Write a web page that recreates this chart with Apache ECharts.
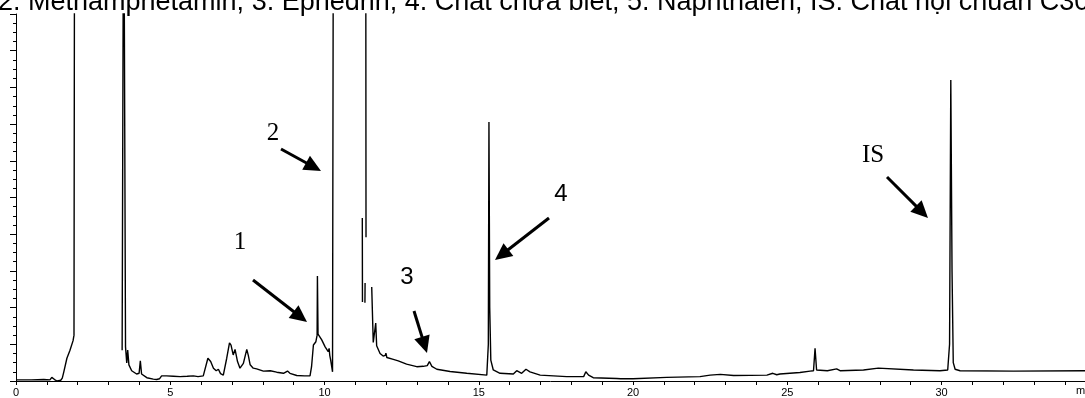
<!DOCTYPE html>
<html>
<head>
<meta charset="utf-8">
<script src="https://cdn.jsdelivr.net/npm/echarts@6/dist/echarts.min.js"></script>
<style>
  html, body { margin: 0; padding: 0; background: #fff; }
  #chart { width: 1085px; height: 398px; }
</style>
</head>
<body>
<div id="chart"></div>
<script>
// retention time (min) and detector response (% of full scale); null = trace off scale / not recorded
var retentionTimes = [
  0.00, 0.50, 0.90, 1.10, 1.16, 1.20, 1.25, 1.33, 1.45, 1.50, 1.55, 1.65, 1.75, 1.85, 1.88, 1.90,
  2.50,
  3.44, 3.49, 3.52, 3.55, 3.59, 3.62, 3.66, 3.75, 3.91, 3.99, 4.03, 4.07, 4.24, 4.45, 4.56, 4.65,
  4.72, 4.88, 5.10, 5.32, 5.55, 5.75, 5.90, 6.07, 6.13, 6.22, 6.31, 6.40, 6.49, 6.56, 6.63, 6.72,
  6.83, 6.92, 6.97, 7.04, 7.10, 7.13, 7.18, 7.26, 7.37, 7.48, 7.53, 7.59, 7.69, 7.80, 8.02, 8.24,
  8.45, 8.67, 8.80, 8.88, 9.10, 9.35, 9.53, 9.58, 9.64, 9.72, 9.76, 9.77, 9.79, 9.83, 9.91, 10.02,
  10.12, 10.15, 10.17, 10.20, 10.26, 10.29,
  10.80,
  11.225, 11.23,
  11.27,
  11.31, 11.315,
  11.325,
  11.335, 11.345,
  11.45,
  11.53, 11.58, 11.62, 11.66, 11.69, 11.75, 11.80, 11.90, 11.97, 11.99, 12.02, 12.23, 12.39, 12.66,
  12.99, 13.20, 13.33, 13.40, 13.48, 13.64, 14.07, 14.61, 15.26, 15.31, 15.33, 15.355, 15.39, 15.47,
  15.69, 16.12, 16.23, 16.39, 16.53, 16.66, 16.99, 17.85, 18.40, 18.47, 18.56, 18.71, 19.47, 19.52,
  19.60, 20.00, 21.09, 22.17, 22.50, 22.83, 23.26, 24.34, 24.53, 24.66, 24.76, 25.41, 25.74, 25.85,
  25.90, 25.95, 26.30, 26.60, 26.71, 27.47, 27.95, 28.00, 29.09, 29.95, 30.20, 30.26, 30.30, 30.34,
  30.38, 30.44, 30.60, 32.33, 34.65
];
var intensities = [
  0.3, 0.3, 0.4, 0.3, 1.0, 0.6, 0.4, 0.0, 0.2, 0.8, 2.5, 6.2, 8.4, 11.0, 12.5, 150,
  null,
  8.4, 150, 150, 9.3, 4.9, 8.4, 4.4, 2.8, 1.9, 2.1, 5.5, 1.9, 0.9, 0.5, 0.4, 0.6,
  1.4, 1.4, 1.3, 1.2, 1.3, 1.4, 1.2, 1.4, 1.8, 6.2, 5.3, 3.5, 2.8, 3.2, 2.0, 1.6,
  6.2, 10.4, 9.8, 7.1, 8.6, 8.9, 5.3, 3.5, 4.8, 8.6, 7.0, 4.4, 3.5, 3.3, 2.7, 2.8,
  2.4, 2.1, 2.7, 2.1, 1.5, 1.4, 1.4, 3.9, 9.8, 10.7, 12.5, 28.6, 12.8, 12.5, 11.2, 9.3,
  8.0, 8.9, 7.0, 5.7, 2.5, 150,
  null,
  44.4, 21.5,
  null,
  21.3, 26.7,
  null,
  150, 39.2,
  null,
  25.6, 10.5, 11.0, 15.8, 9.6, 9.3, 7.5, 6.8, 7.0, 7.6, 6.4, 5.9, 5.5, 4.6,
  3.9, 4.0, 4.2, 5.3, 4.0, 3.2, 2.6, 2.1, 1.6, 10, 70.6, 20, 5.7, 3.0,
  2.1, 1.9, 2.8, 2.1, 3.2, 2.5, 1.6, 1.2, 1.2, 2.5, 1.6, 0.9, 0.7, 0.9,
  0.6, 0.6, 1.0, 1.2, 1.6, 1.8, 1.5, 1.6, 2.1, 1.7, 1.9, 2.3, 2.7, 2.8,
  8.9, 3.0, 2.8, 3.3, 2.8, 3.0, 3.5, 3.0, 3.0, 2.8, 3.0, 10, 82, 30,
  5, 3.2, 2.8, 2.7, 2.8
];
var xTickLabels = ['0', '5', '10', '15', '20', '25', '30'];
var titleText = '2. Methamphetamin, 3. Ephedrin, 4. Chất chưa biết, 5. Naphthalen, IS: Chất nội chuẩn C30';

var traceData = retentionTimes.map(function (t, i) {
  return [t, intensities[i] === null ? '-' : intensities[i]];
});

// arrow: tail (x1,y1) -> tip (x2,y2)
function arrow(x1, y1, x2, y2) {
  var dx = x2 - x1, dy = y2 - y1;
  var len = Math.sqrt(dx * dx + dy * dy);
  var ux = dx / len, uy = dy / len;
  var hl = 17, hw = 8;
  var bx = x2 - ux * hl, by = y2 - uy * hl;
  return [
    { type: 'line', shape: { x1: x1, y1: y1, x2: bx + ux * 2, y2: by + uy * 2 },
      style: { stroke: '#000', lineWidth: 3 }, z: 10 },
    { type: 'polygon', shape: { points: [[x2, y2], [bx - uy * hw, by + ux * hw], [bx + uy * hw, by - ux * hw]] },
      style: { fill: '#000' }, z: 10 }
  ];
}

function label(text, x, y, serif) {
  return {
    type: 'text', x: x, y: y, z: 10,
    style: {
      text: text, fill: '#000', align: 'center', verticalAlign: 'middle',
      font: serif ? '25px "Liberation Serif"' : '24px "Liberation Sans"'
    }
  };
}

var graphics = [
  { type: 'text', x: -2, y: -11,
    style: { text: titleText, fill: '#000', font: '27px "Liberation Sans"', verticalAlign: 'top' } },
  { type: 'text', x: 1076, y: 385,
    style: { text: 'min', fill: '#000', font: '11px "Liberation Sans"', verticalAlign: 'top' } },
  label('1', 240, 242, true),
  label('2', 273, 133, true),
  label('3', 407, 277, false),
  label('4', 561, 194, false),
  label('IS', 873, 155, true)
]
  .concat(arrow(253, 280, 307, 322))
  .concat(arrow(281, 149, 321, 171))
  .concat(arrow(414, 311, 427, 353))
  .concat(arrow(549, 218, 495, 260))
  .concat(arrow(887, 177, 928, 218));

var myChart = echarts.init(document.getElementById('chart'));
myChart.setOption({
  animation: false,
  grid: { left: 16, right: 0, top: 14, bottom: 17 },
  xAxis: {
    type: 'value',
    min: 0,
    max: 34.65,
    interval: 5,
    axisLine: { lineStyle: { color: '#000', width: 1 } },
    axisTick: { length: 4, lineStyle: { color: '#000' } },
    minorTick: { show: true, splitNumber: 5, length: 4, lineStyle: { color: '#000' } },
    splitLine: { show: false },
    axisLabel: {
      color: '#000', fontSize: 11, fontFamily: 'Liberation Sans', margin: 6,
      showMaxLabel: false,
      formatter: function (v) {
        var s = String(Math.round(v));
        return xTickLabels.indexOf(s) >= 0 ? s : '';
      }
    }
  },
  yAxis: {
    type: 'value',
    min: 0,
    max: 100,
    interval: 10,
    axisLine: { show: true, lineStyle: { color: '#000', width: 1 } },
    axisTick: { show: true, length: 6, lineStyle: { color: '#000' } },
    minorTick: { show: true, splitNumber: 4, length: 3, lineStyle: { color: '#000' } },
    splitLine: { show: false },
    axisLabel: { show: false }
  },
  series: [
    {
      type: 'line',
      data: traceData,
      symbol: 'none',
      connectNulls: false,
      clip: true,
      lineStyle: { color: '#000', width: 1.4 }
    }
  ],
  graphic: graphics
});
</script>
</body>
</html>
